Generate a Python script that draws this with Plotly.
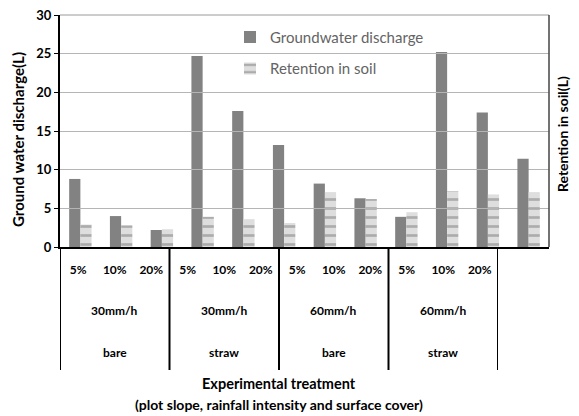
import plotly.graph_objects as go

slopes = ["5%", "10%", "20%"] * 4
intensities = ["30mm/h", "30mm/h", "60mm/h", "60mm/h"]
covers = ["bare", "straw", "bare", "straw"]
groundwater = [8.8, 4.0, 2.2, 24.7, 17.6, 13.2, 8.2, 6.3, 3.9, 25.2, 17.4, 11.4]
retention = [2.9, 2.8, 2.3, 3.9, 3.6, 3.1, 7.1, 6.2, 4.5, 7.2, 6.8, 7.1]

cats = [f"{covers[i // 3]} {intensities[i // 3]} {slopes[i]}" for i in range(len(slopes))]
FONT = "Lato"
OFF = 8  # page body margin

fig = go.Figure()
# helper trace for the label axis (invisible)
fig.add_trace(go.Scatter(x=list(range(len(slopes))), y=[0] * len(slopes), xaxis="x2", yaxis="y",
                         mode="markers", marker=dict(opacity=0), showlegend=False, hoverinfo="skip"))
fig.add_trace(go.Bar(x=cats, y=groundwater, name="Groundwater discharge",
                     marker=dict(color="#828282", line=dict(width=0)), legendgroup="a"))
fig.add_trace(go.Bar(x=cats, y=retention, name="Retention in soil", legendgroup="b",
                     marker=dict(color="#dcdcdc", line=dict(width=0),
                                 pattern=dict(shape="-", fgcolor="#7a7a7a", bgcolor="#dedede",
                                              size=9, solidity=0.3))))

dom2 = (498 - 60) / 489
fig.update_layout(
    width=579 - OFF, height=416 - OFF,
    margin=dict(l=60 - OFF, r=30, t=15 - OFF, b=169, autoexpand=False),
    paper_bgcolor="white", plot_bgcolor="rgba(0,0,0,0)",
    barmode="group", bargap=0.45, bargroupgap=0,
    font=dict(family=FONT, color="black"),
    showlegend=True,
    legend=dict(x=(230 - 60) / 489, y=0.975, xanchor="left", yanchor="top",
                bgcolor="rgba(0,0,0,0)",
                font=dict(size=15, color="#646464", family=FONT), tracegroupgap=9,
                traceorder="grouped", itemwidth=30),
    xaxis=dict(type="category", showticklabels=False, ticks="", showgrid=False,
               showline=True, linecolor="black", linewidth=2, mirror=False, zeroline=False),
    xaxis2=dict(domain=[0, dom2], anchor="y", range=[-0.5, 11.5], tickvals=list(range(12)),
                ticktext=slopes, showgrid=False, zeroline=False, showline=False, ticks="",
                ticklabelstandoff=14, tickfont=dict(size=12, family=FONT, color="black",
                                                     weight="bold")),
    yaxis=dict(range=[0, 30], dtick=5, showgrid=True, gridcolor="#b5b5b5", gridwidth=1,
               showline=True, linecolor="black", linewidth=2, ticks="outside", ticklen=4,
               tickcolor="black", zeroline=False, ticklabeloverflow="allow",
               tickfont=dict(size=13, family=FONT, color="black", weight="bold")),
)

# plot frame (top and right)
fig.add_shape(type="line", xref="paper", yref="paper", x0=0, x1=1, y0=1, y1=1,
              line=dict(color="#9a9a9a", width=1))
fig.add_shape(type="line", xref="paper", yref="paper", x0=1, x1=1, y0=0, y1=1,
              line=dict(color="#444444", width=1.5))

# group dividers in the category table
low = -(370 - 247) / 232
for xv in [-0.5, 2.5, 5.5, 8.5, 11.5]:
    fig.add_shape(type="line", xref="x2", yref="paper", x0=xv, x1=xv, y0=0, y1=low,
                  line=dict(color="black", width=2))

for g in range(4):
    fig.add_annotation(x=g * 3 + 1, xref="x2", y=-(310 - 247) / 232, yref="paper",
                       xanchor="center", yanchor="middle",
                       text=intensities[g], showarrow=False,
                       font=dict(size=12, family=FONT, color="black", weight="bold"))
    fig.add_annotation(x=g * 3 + 1, xref="x2", y=-(352 - 247) / 232, yref="paper",
                       xanchor="center", yanchor="middle",
                       text=covers[g], showarrow=False,
                       font=dict(size=12, family=FONT, color="black", weight="bold"))

fig.add_annotation(x=(279 - 60) / 489, xref="paper", y=-(383 - 247) / 232, yref="paper",
                   xanchor="center", yanchor="middle",
                   text="Experimental treatment", showarrow=False,
                   font=dict(size=14.5, family=FONT, color="black", weight="bold"))
fig.add_annotation(x=(279 - 60) / 489, xref="paper", y=-(405 - 247) / 232, yref="paper",
                   xanchor="center", yanchor="middle",
                   text="(plot slope, rainfall intensity and surface cover)", showarrow=False,
                   font=dict(size=14, family=FONT, color="black", weight="bold"))
fig.add_annotation(x=(18 - 60) / 489, xref="paper", y=(247 - 140) / 232, yref="paper",
                   xanchor="center", yanchor="middle",
                   text="Ground water discharge(L)", textangle=-90, showarrow=False,
                   font=dict(size=15, family=FONT, color="black", weight="bold"))
fig.add_annotation(x=(562 - 60) / 489, xref="paper", y=(247 - 134) / 232, yref="paper",
                   xanchor="center", yanchor="middle",
                   text="Retention in soil(L)", textangle=-90, showarrow=False,
                   font=dict(size=14, family=FONT, color="black", weight="bold"))

fig.write_html("out.html")
